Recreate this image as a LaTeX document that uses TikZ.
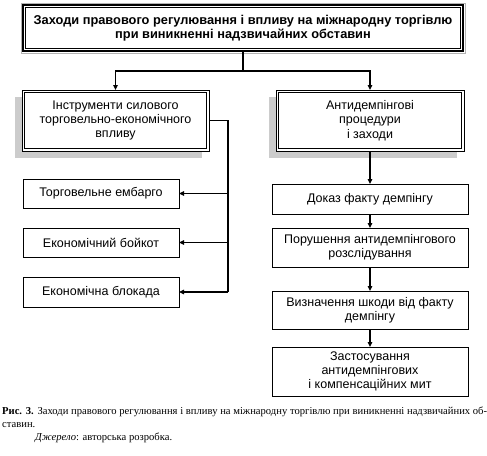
\documentclass[tikz,border=0pt]{standalone}
\usepackage{fontspec}
\setmainfont{Liberation Sans}
\newfontfamily\capfont{Liberation Serif}
\usetikzlibrary{arrows.meta,calc,backgrounds}
\begin{document}
\begin{tikzpicture}[x=1pt,y=-1pt,
 txt/.style={font=\fontsize{12.5}{14.3}\selectfont, align=center, inner sep=0pt, outer sep=0pt},
 topbox/.style={txt, font=\bfseries\fontsize{12.8}{14.3}\selectfont, draw=black, line width=2pt, fill=white, minimum width=440pt, minimum height=46pt},
 dblbox/.style={txt, draw=black, line width=0.8pt, fill=white},
 smallbox/.style={txt, draw=black, line width=0.8pt, fill=white},
 shadowfill/.style={fill=gray!40},
 conn/.style={line width=1.5pt},
 arr/.style={conn, -{Triangle[length=5pt,width=4.5pt]}},
 captxt/.style={anchor=base west, inner sep=0pt, font=\capfont\fontsize{10.6}{13}\selectfont},
]
\useasboundingbox (0,0) rectangle (487,455);
% top box
\node[topbox] (top) at (243,28) {Заходи правового регулювання і впливу на міжнародну торгівлю\\при виникненні надзвичайних обставин};
\draw[gray!60, line width=1pt] ($(top.north west)+(-2,-2)$) rectangle ($(top.south east)+(2,2)$);
\draw[black, line width=0.8pt] ($(top.north west)+(2.8,2.8)$) rectangle ($(top.south east)+(-2.8,-2.8)$);
% second level
\node[dblbox, minimum width=187pt, minimum height=61pt] (L) at (115.5,120.5) {Інструменти силового\\торговельно-економічного\\впливу};
\node[dblbox, minimum width=188pt, minimum height=61pt] (R) at (370,120.5) {Антидемпінгові\\процедури\\і заходи};
\draw[black, line width=0.8pt] ($(L.north west)+(2.4,2.4)$) rectangle ($(L.south east)+(-2.4,-2.4)$);
\draw[black, line width=0.8pt] ($(R.north west)+(2.4,2.4)$) rectangle ($(R.south east)+(-2.4,-2.4)$);
\begin{scope}[on background layer]
\fill[shadowfill] ($(L.north west)+(-7,7)$) rectangle ($(L.south east)+(-7,7)$);
\fill[shadowfill] ($(R.north west)+(-7,7)$) rectangle ($(R.south east)+(-7,7)$);
\end{scope}
% left boxes
\node[smallbox, minimum width=156pt, minimum height=29pt] (A) at (101,193.5) {Торговельне ембарго};
\node[smallbox, minimum width=156pt, minimum height=29pt] (B) at (101,242.5) {Економічний бойкот};
\node[smallbox, minimum width=156pt, minimum height=30pt] (C) at (101,292) {Економічна блокада};
% right boxes
\node[smallbox, minimum width=196pt, minimum height=30pt] (D) at (370,199) {Доказ факту демпінгу};
\node[smallbox, minimum width=196pt, minimum height=39pt] (P) at (370,247.5) {Порушення антидемпінгового\\розслідування};
\node[smallbox, minimum width=196pt, minimum height=38pt] (V) at (370,310) {Визначення шкоди від факту\\демпінгу};
\node[smallbox, minimum width=196pt, minimum height=49pt] (Z) at (370,371.5) {Застосування\\антидемпінгових\\і компенсаційних мит};
% connectors
\coordinate (j) at (243,71);
\draw[conn] (top.south) -- (j);
\draw[arr] (j) -| (L.north);
\draw[arr] (j) -| (R.north);
\coordinate (bus) at (228,292);
\draw[conn, line width=1.8pt] (L.east) -| (bus);
\draw[arr] (A.east -| bus) -- (A.east);
\draw[arr] (B.east -| bus) -- (B.east);
\draw[arr] (bus) -- (C.east);
\draw[arr, line width=1.3pt] (R.south) -- (D.north);
\draw[arr, line width=1.3pt] (D.south) -- (P.north);
\draw[arr, line width=1.3pt] (P.south) -- (V.north);
\draw[arr, line width=1.3pt] (V.south) -- (Z.north);
% caption
\node[captxt] (cap1) at (2,414) {\makebox[485pt][s]{\textbf{Рис. 3.} Заходи правового регулювання і впливу на міжнародну торгівлю при виникненні надзвичайних об-}};
\node[captxt] (cap2) at (2,427) {ставин.};
\node[captxt] (cap3) at (35,440) {\textit{Джерело}: авторська розробка.};
\end{tikzpicture}
\end{document}
